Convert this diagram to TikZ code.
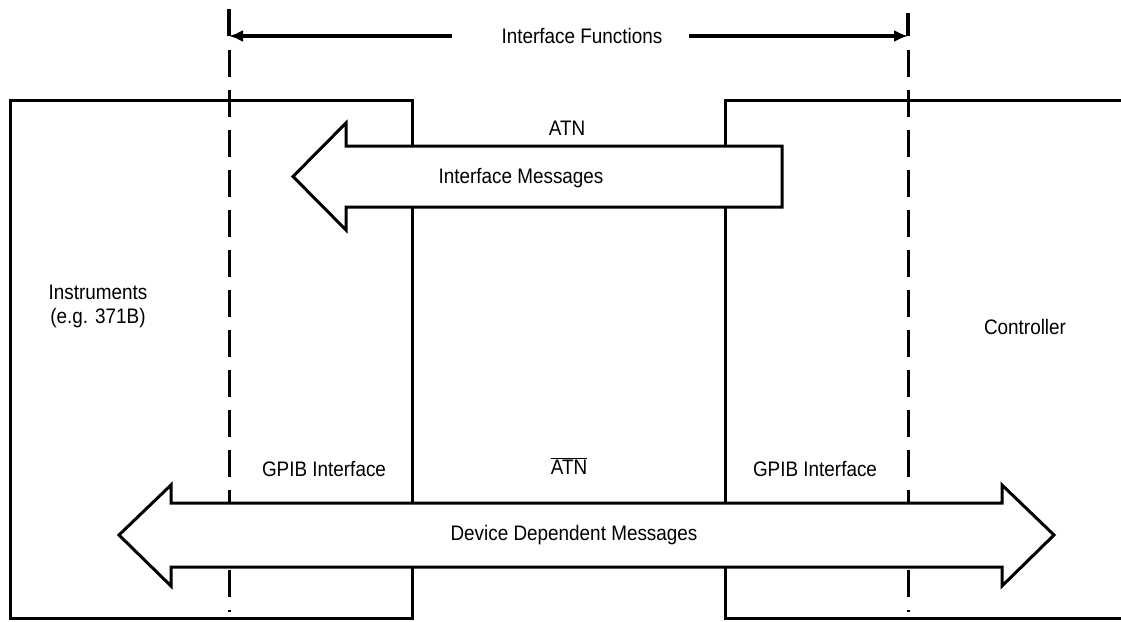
\documentclass[tikz,border=0pt]{standalone}
\usepackage{fontspec}
\setmainfont[FakeStretch=0.9]{Liberation Sans}
\usetikzlibrary{arrows.meta,positioning}
\tikzset{
  >={Latex[length=14pt,width=12pt]},
  box/.style={line width=3pt, line join=miter},
  guide/.style={line width=3pt, dash pattern=on 27pt off 13pt},
  dimline/.style={line width=3.6pt, ->},
  tick/.style={line width=3.4pt},
  blockarrow/.style={draw, fill=white, line width=3pt, line join=miter},
  lbl/.style={font=\fontsize{21}{24}\selectfont, inner sep=0pt, align=center},
}

\begin{document}
\begin{tikzpicture}[x=1pt,y=-1pt]
\useasboundingbox (0,0) rectangle (1121,621);

% where the interface functions start and end
\coordinate (gl) at (229,9);
\coordinate (gr) at (908,13);
\coordinate (fl) at (452,36);
\coordinate (fr) at (689,36);

\node[lbl] (funcs) at (582,36) {Interface Functions};
\draw[dimline] (fl) -- (fl -| gl);
\draw[dimline] (fr) -- (fr -| gr);
\draw[tick] (gl) -- (gl |- fl);
\draw[tick] (gr) -- (gr |- fr);

% the two sides
\draw[box] (10,100) rectangle (412,618);
\draw[box] (1121,100) -- (725,100) -- (725,618) -- (1121,618);

\draw[guide] (229,50) -- (229,612);
\draw[guide] (908,50) -- (908,612);

% message paths
\draw[blockarrow] (782,146) -- (346,146) -- (346,123) -- (293,176.5)
  -- (346,230) -- (346,207) -- (782,207) -- cycle;
\draw[blockarrow] (171,503) -- (1002,503) -- (1002,485) -- (1054,535)
  -- (1002,586) -- (1002,567) -- (171,567) -- (171,586) -- (119,535)
  -- (171,485) -- cycle;

\node[lbl] (atn) at (567,128) {ATN};
\node[lbl] (imsg) at (521,178) {Interface Messages};
\node[lbl] (instr) at (98,306) {Instruments\\(e.g. 371B)};
\node[lbl] (ctrl) at (1025,327) {Controller};
\node[lbl] (gpibl) at (324,469) {GPIB Interface};
\node[lbl] (natn) at (569,466) {$\overline{\hbox{ATN}}$};
\node[lbl] (gpibr) at (815,469) {GPIB Interface};
\node[lbl] (dmsg) at (574,535) {Device Dependent Messages};
\end{tikzpicture}
\end{document}
